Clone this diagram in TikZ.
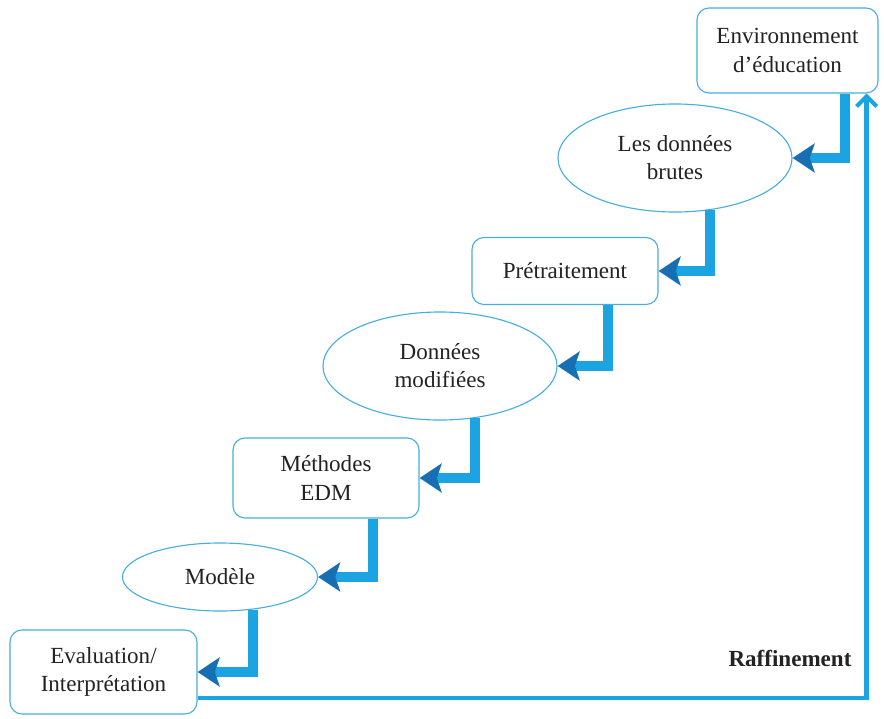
\documentclass[tikz,border=0pt]{standalone}
\usepackage{fontspec}
\setmainfont{Liberation Serif}
\usetikzlibrary{arrows.meta,shapes.geometric}

\definecolor{barblue}{RGB}{27,163,226}
\definecolor{tipblue}{RGB}{24,110,178}
\definecolor{edgeblue}{RGB}{70,175,222}
\definecolor{ink}{RGB}{35,35,35}

\begin{document}
\begin{tikzpicture}[x=0.025cm,y=-0.025cm,
  box/.style={draw=edgeblue,line width=0.8pt,rounded corners=0.3cm,fill=white,
    align=center,text=ink,font=\fontsize{16.4}{20}\selectfont},
  blob/.style={ellipse,draw=edgeblue,line width=0.8pt,fill=white,
    align=center,text=ink,font=\fontsize{16.4}{20}\selectfont},
  flow/.style={draw=barblue,line width=0.25cm,
    -{Stealth[length=0.55cm,width=0.72cm,inset=0.12cm,color=tipblue]}},
  refine/.style={draw=barblue,line width=0.11cm,
    -{Straight Barb[length=0.25cm,width=0.5cm,line width=0.1cm]}}]

\useasboundingbox (0,0) rectangle (884,719);

\node[box,minimum width=4.525cm,minimum height=2.125cm] (env) at (787.5,50.5) {Environnement\\d'éducation};
\node[blob,minimum width=5.85cm,minimum height=2.7cm] (raw) at (675,158) {Les données\\brutes};
\node[box,minimum width=4.65cm,minimum height=1.675cm] (prep) at (565,271) {Prétraitement};
\node[blob,minimum width=5.85cm,minimum height=2.7cm] (dmod) at (440,366) {Données\\modifiées};
\node[box,minimum width=4.65cm,minimum height=2cm] (edm) at (326,478) {Méthodes\\EDM};
\node[blob,minimum width=4.875cm,minimum height=1.7cm] (model) at (220,577) {Modèle};
\node[box,minimum width=4.675cm,minimum height=2.1cm] (eval) at (103.5,672) {Evaluation/\\Interprétation};

% steps down the stairs
\draw[flow] ([xshift=1.44cm]env.south) |- (raw.east);
\draw[flow] (raw.-56) |- (prep.east);
\draw[flow] ([xshift=1.075cm]prep.south) |- (dmod.east);
\draw[flow] (dmod.-56) |- (edm.east);
\draw[flow] ([xshift=1.175cm]edm.south) |- (model.east);
\draw[flow] (model.-45) |- (eval.east);

% loop back
\draw[refine] ([yshift=-0.65cm]eval.east) -| ([xshift=-0.3cm]env.south east);
\node[text=ink,font=\fontsize{16.4}{20}\selectfont\bfseries] (refl) at (790,658) {Raffinement};
\end{tikzpicture}
\end{document}
